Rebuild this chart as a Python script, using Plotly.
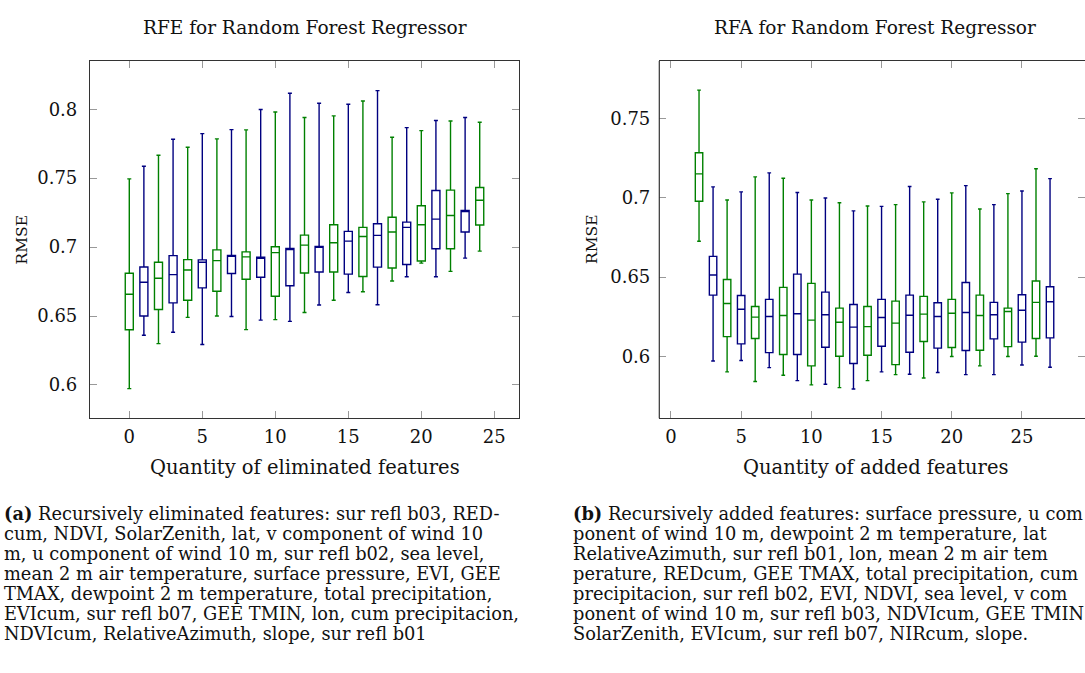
import plotly.graph_objects as go

W, H = 1085, 673

# ---------------- data: RFE (left) ----------------
rfe_x = list(range(0, 25))
rfe_low = [0.5973, 0.636, 0.630, 0.6382, 0.649, 0.6293, 0.650, 0.6496, 0.6401, 0.647, 0.6474, 0.6461, 0.6525,
           0.658, 0.6614, 0.6671, 0.6676, 0.6582, 0.6754, 0.6785, 0.6884, 0.6785, 0.6824, 0.692, 0.6971]
rfe_q1 = [0.640, 0.650, 0.6547, 0.6595, 0.6614, 0.6704, 0.668, 0.6808, 0.6767, 0.6781, 0.6643, 0.672, 0.6812,
          0.6819, 0.6819, 0.6804, 0.6787, 0.6855, 0.6848, 0.6874, 0.6899, 0.6988, 0.6988, 0.7109, 0.716]
rfe_med = [0.6658, 0.6745, 0.6774, 0.680, 0.6834, 0.689, 0.6902, 0.6935, 0.6929, 0.692, 0.696, 0.6985, 0.7014,
           0.700, 0.7031, 0.7043, 0.7077, 0.7085, 0.7109, 0.7143, 0.7162, 0.7203, 0.7229, 0.726, 0.734]
rfe_q3 = [0.681, 0.6856, 0.689, 0.6938, 0.6909, 0.6907, 0.698, 0.694, 0.6965, 0.6926, 0.7003, 0.699, 0.7087,
          0.7005, 0.7162, 0.7114, 0.7143, 0.7169, 0.7217, 0.7181, 0.730, 0.7411, 0.7413, 0.7266, 0.7432]
rfe_high = [0.7495, 0.7586, 0.7666, 0.7782, 0.7724, 0.7823, 0.7785, 0.7852, 0.785, 0.7998, 0.798, 0.8116, 0.794,
            0.8043, 0.7952, 0.8036, 0.806, 0.8135, 0.7797, 0.7867, 0.7845, 0.7918, 0.7915, 0.794, 0.7906]

# ---------------- data: RFA (right) ----------------
rfa_x = list(range(2, 28))
rfa_low = [0.6726, 0.597, 0.5901, 0.5973, 0.584, 0.5928, 0.588, 0.5846, 0.5819, 0.5823, 0.5802, 0.5793, 0.5846,
           0.5901, 0.5884, 0.5886, 0.5863, 0.5897, 0.5998, 0.5884, 0.5939, 0.5884, 0.5998, 0.5945, 0.600, 0.593]
rfa_q1 = [0.6979, 0.6386, 0.6124, 0.6078, 0.6112, 0.6023, 0.6011, 0.6011, 0.5939, 0.6057, 0.600, 0.5954, 0.6006,
          0.6063, 0.5947, 0.6025, 0.6093, 0.6051, 0.6055, 0.6036, 0.6038, 0.611, 0.6061, 0.6089, 0.6112, 0.6116]
rfa_med = [0.7152, 0.6513, 0.6333, 0.6297, 0.6247, 0.6251, 0.6257, 0.6268, 0.6228, 0.6262, 0.6215, 0.6184, 0.6187,
           0.6245, 0.6209, 0.6259, 0.6266, 0.6251, 0.6272, 0.6276, 0.6257, 0.6262, 0.6283, 0.6291, 0.634, 0.6344]
rfa_q3 = [0.7285, 0.6631, 0.6485, 0.6384, 0.6314, 0.6359, 0.6435, 0.6519, 0.646, 0.6405, 0.6304, 0.6327, 0.6314,
          0.6359, 0.6348, 0.6386, 0.6378, 0.6338, 0.6359, 0.6466, 0.6386, 0.634, 0.6304, 0.6388, 0.6475, 0.6439]
rfa_high = [0.7681, 0.707, 0.6987, 0.7038, 0.7133, 0.7158, 0.7124, 0.7034, 0.6987, 0.700, 0.697, 0.6918, 0.6949,
            0.6947, 0.6958, 0.7072, 0.6975, 0.6992, 0.7032, 0.7078, 0.693, 0.6958, 0.7027, 0.7044, 0.7184, 0.7122]

titles = ["RFE for Random Forest Regressor", "RFA for Random Forest Regressor"]
xlabels = ["Quantity of eliminated features", "Quantity of added features"]
ylabel = "RMSE"
x_ticks = [0, 5, 10, 15, 20, 25]
left_y_ticks = [0.6, 0.65, 0.7, 0.75, 0.8]
right_y_ticks = [0.6, 0.65, 0.7, 0.75]

caption_a = [
    "<b>(a)</b> Recursively eliminated features: sur refl b03, RED-",
    "cum, NDVI, SolarZenith, lat, v component of wind 10",
    "m, u component of wind 10 m, sur refl b02, sea level,",
    "mean 2 m air temperature, surface pressure, EVI, GEE",
    "TMAX, dewpoint 2 m temperature, total precipitation,",
    "EVIcum, sur refl b07, GEE TMIN, lon, cum precipitacion,",
    "NDVIcum, RelativeAzimuth, slope, sur refl b01",
]
# as visible in the reference (its right edge cuts the lines)
caption_b = [
    "<b>(b)</b> Recursively added features: surface pressure, u com",
    "ponent of wind 10 m, dewpoint 2 m temperature, lat",
    "RelativeAzimuth, sur refl b01, lon, mean 2 m air tem",
    "perature, REDcum, GEE TMAX, total precipitation, cum",
    "precipitacion, sur refl b02, EVI, NDVI, sea level, v com",
    "ponent of wind 10 m, sur refl b03, NDVIcum, GEE TMIN",
    "SolarZenith, EVIcum, sur refl b07, NIRcum, slope.",
]

GREEN = "#008000"
BLUE = "#000080"
FONT = "DejaVu Serif"
TXT = "#111111"


def px(x):
    return x / W


def py(y):
    return 1 - y / H


fig = go.Figure()


def add_boxes(xs, lo, q1, med, q3, hi, xa, ya, width):
    for parity, color in ((0, GREEN), (1, BLUE)):
        idx = [i for i, v in enumerate(xs) if v % 2 == parity]
        fig.add_trace(go.Box(
            x=[xs[i] for i in idx],
            lowerfence=[lo[i] for i in idx],
            q1=[q1[i] for i in idx],
            median=[med[i] for i in idx],
            q3=[q3[i] for i in idx],
            upperfence=[hi[i] for i in idx],
            boxpoints=False,
            width=width,
            whiskerwidth=0.5,
            line=dict(color=color, width=1.4),
            fillcolor="rgba(0,0,0,0)",
            xaxis=xa, yaxis=ya,
            showlegend=False,
            hoverinfo="skip",
        ))


add_boxes(rfe_x, rfe_low, rfe_q1, rfe_med, rfe_q3, rfe_high, "x", "y", 0.55)
add_boxes(rfa_x, rfa_low, rfa_q1, rfa_med, rfa_q3, rfa_high, "x2", "y2", 0.53)

ydom = [py(418.3), py(61)]
tickfont = dict(family=FONT, size=18, color=TXT)
common_axis = dict(ticks="inside", ticklen=7, tickcolor="#999999", tickwidth=1,
                   showgrid=False, zeroline=False, tickfont=tickfont)

fig.update_layout(
    width=W, height=H,
    margin=dict(l=0, r=0, t=0, b=0),
    paper_bgcolor="white", plot_bgcolor="white",
    boxmode="overlay",
    xaxis=dict(domain=[px(90), px(519)], range=[-2.69, 26.69], tickvals=x_ticks,
               showline=True, linecolor="#333333", linewidth=1.2, mirror="ticks",
               anchor="y", ticklabelstandoff=2, **common_axis),
    yaxis=dict(domain=ydom, range=[0.5758, 0.835], tickvals=left_y_ticks,
               ticktext=["0.6", "0.65", "0.7", "0.75", "0.8"],
               showline=True, linecolor="#333333", linewidth=1.2, mirror="ticks",
               anchor="x", ticklabelstandoff=8, **common_axis),
    xaxis2=dict(domain=[px(659.3), 1.0], range=[-0.83, 29.49], tickvals=x_ticks,
                showline=True, linecolor="#333333", linewidth=1.2, mirror="ticks",
                anchor="y2", ticklabelstandoff=2, **common_axis),
    yaxis2=dict(domain=ydom, range=[0.5608, 0.7865], tickvals=right_y_ticks,
                ticktext=["0.6", "0.65", "0.7", "0.75"],
                showline=False, mirror="ticks",
                anchor="x2", ticklabelstandoff=8, **common_axis),
    font=dict(family=FONT, color=TXT),
)

# left frame line of the right plot (right frame lies beyond the page edge)
fig.add_shape(type="line", xref="x2 domain", yref="y2 domain", x0=0, x1=0, y0=0, y1=1,
              line=dict(color="#333333", width=1.2))

annotations = []
# titles
for cx, t in ((304.5, titles[0]), (875.0, titles[1])):
    annotations.append(dict(x=px(cx), y=py(28), xref="paper", yref="paper", text=t,
                            showarrow=False, xanchor="center", yanchor="middle",
                            font=dict(family=FONT, size=18.5, color=TXT)))
# x labels
for cx, t in ((304.5, xlabels[0]), (875.0, xlabels[1])):
    annotations.append(dict(x=px(cx), y=py(467), xref="paper", yref="paper", text=t,
                            showarrow=False, xanchor="center", yanchor="middle",
                            font=dict(family=FONT, size=19.5, color=TXT)))
# y labels
for cx in (21.5, 592):
    annotations.append(dict(x=px(cx), y=py(240), xref="paper", yref="paper", text=ylabel,
                            showarrow=False, xanchor="center", yanchor="middle", textangle=-90,
                            font=dict(family=FONT, size=15.5, color=TXT)))
# captions
for x0, lines in ((2, caption_a), (571, caption_b)):
    for k, line in enumerate(lines):
        annotations.append(dict(x=px(x0), y=py(513 + 20 * k), xref="paper", yref="paper",
                                text=line, showarrow=False, xanchor="left", yanchor="middle",
                                font=dict(family=FONT, size=17.8, color=TXT)))

fig.update_layout(annotations=annotations)

fig.write_html("out.html")
